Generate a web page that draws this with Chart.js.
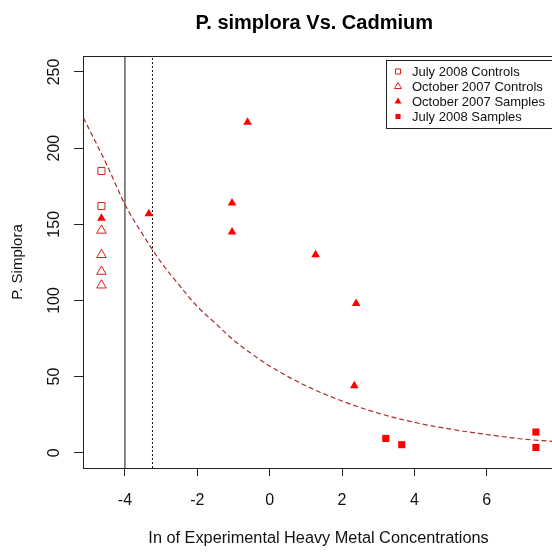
<!DOCTYPE html>
<html>
<head>
<meta charset="utf-8">
<script src="https://cdn.jsdelivr.net/npm/chart.js@4"></script>
<style>
  html, body { margin: 0; padding: 0; overflow: hidden; background: #fff; }
</style>
</head>
<body>
<canvas id="plot" width="552" height="553"></canvas>
<script>
// observations
let julyControlsX = [-4.65, -4.65];
let julyControlsY = [185, 162];
let octControlsX = [-4.65, -4.65, -4.65, -4.65];
let octControlsY = [146, 130, 119, 110];
let octSamplesX = [-4.65, -3.34, -0.61, -1.04, -1.04, 1.27, 2.39, 2.34];
let octSamplesY = [154, 157, 217, 164, 145, 130, 98, 44];
let julySamplesX = [3.21, 3.65, 7.36, 7.36];
let julySamplesY = [9.4, 5.3, 13.6, 3.5];

// fitted decay curve
let curveX = [-5.15, -4.5, -4, -3.5, -3, -2.5, -2, -1.5, -1, -0.5, 0, 1, 2, 3, 4, 5, 6, 7, 7.86];
let curveY = [220, 189, 163, 143, 125, 110, 96, 85, 74, 65, 57, 44, 34, 26, 20, 15.5, 12, 9, 7.4];

// vertical reference lines: solid, dotted
let refLineX = [-4, -3.24];

let xTicks = [-4, -2, 0, 2, 4, 6];
let yTicks = [0, 50, 100, 150, 200, 250];

const xMin = -5.16, xMax = 7.86, yMin = -10, yMax = 260.5;
const FONT = "'Liberation Sans', Arial, sans-serif";
const red = '#ff0000';

function pts(xs, ys) { return xs.map((x, i) => ({ x: x, y: ys[i] })); }

let datasets = [
  { label: 'July 2008 Controls', data: pts(julyControlsX, julyControlsY), pointStyle: 'rect',
    pointRadius: 5, borderColor: '#dc1c1c', backgroundColor: 'rgba(0,0,0,0)', pointBorderWidth: 1, showLine: false },
  { label: 'October 2007 Controls', data: pts(octControlsX, octControlsY), pointStyle: 'triangle',
    pointRadius: 5.5, borderColor: '#dc1c1c', backgroundColor: 'rgba(0,0,0,0)', pointBorderWidth: 1, showLine: false },
  { label: 'October 2007 Samples', data: pts(octSamplesX, octSamplesY), pointStyle: 'triangle',
    pointRadius: 5, borderColor: red, backgroundColor: red, pointBorderWidth: 0, showLine: false },
  { label: 'July 2008 Samples', data: pts(julySamplesX, julySamplesY), pointStyle: 'rect',
    pointRadius: 5, borderColor: red, backgroundColor: red, pointBorderWidth: 0, showLine: false },
  { label: 'fit', data: pts(curveX, curveY), showLine: true, pointRadius: 0, borderColor: '#b02a2a',
    borderWidth: 1.2, borderDash: [5, 3], cubicInterpolationMode: 'monotone', fill: false, inLegend: false },
  { label: 'ref1', data: [{ x: refLineX[0], y: yMin }, { x: refLineX[0], y: yMax }], showLine: true,
    pointRadius: 0, borderColor: '#111', borderWidth: 1, inLegend: false },
  { label: 'ref2', data: [{ x: refLineX[1], y: yMin }, { x: refLineX[1], y: yMax }], showLine: true,
    pointRadius: 0, borderColor: '#111', borderWidth: 1, borderDash: [2, 2], inLegend: false }
];

// the plot region runs a couple of pixels past the right edge of the canvas
const overhangPlugin = {
  id: 'overhang',
  afterLayout(chart) {
    const right = chart.width + 2;
    chart.chartArea.right = right;
    chart.chartArea.width = right - chart.chartArea.left;
    const xs = chart.scales.x;
    xs.right = right;
    xs.width = right - xs.left;
    xs.configure();
  }
};

// plot frame + boxed legend in the top right corner
const framePlugin = {
  id: 'frame',
  afterDraw(chart) {
    const ctx = chart.ctx, a = chart.chartArea;
    ctx.save();
    ctx.strokeStyle = '#222';
    ctx.lineWidth = 1;
    ctx.strokeRect(Math.round(a.left) + 0.5, Math.round(a.top) + 0.5, a.right - a.left, a.bottom - a.top);

    const lx = 386.5, ly = 60.5, rowH = 15;
    const items = chart.data.datasets.filter(d => d.inLegend !== false);
    ctx.fillStyle = '#fff';
    ctx.fillRect(lx, ly, 180, 68);
    ctx.strokeRect(lx, ly, 180, 68);
    ctx.font = '13px ' + FONT;
    ctx.textBaseline = 'middle';
    items.forEach((d, i) => {
      const cy = ly + 11 + i * rowH;
      ctx.fillStyle = d.backgroundColor;
      ctx.strokeStyle = d.borderColor;
      ctx.lineWidth = 1;
      Chart.helpers.drawPoint(ctx, {
        pointStyle: d.pointStyle, radius: d.pointStyle === 'rect' ? 3.6 : 4,
        borderWidth: d.pointBorderWidth, rotation: 0
      }, 398, cy);
      ctx.fillStyle = '#111';
      ctx.fillText(d.label, 412, cy + 1);
    });
    ctx.restore();
  }
};

function keepTicks(list) {
  return scale => { scale.ticks = list.map(v => ({ value: v })); };
}

new Chart(document.getElementById('plot'), {
  type: 'scatter',
  data: { datasets: datasets },
  plugins: [overhangPlugin, framePlugin],
  options: {
    responsive: false,
    animation: false,
    devicePixelRatio: 1,
    layout: { padding: 0 },
    plugins: {
      legend: { display: false },
      tooltip: { enabled: false },
      title: {
        display: true,
        text: 'P. simplora Vs. Cadmium',
        fullSize: false,
        color: '#000',
        font: { family: FONT, size: 20, weight: 'bold', lineHeight: 1.2 },
        padding: { top: 11, bottom: 21 }
      }
    },
    scales: {
      x: {
        type: 'linear',
        min: xMin, max: xMax,
        afterBuildTicks: keepTicks(xTicks),
        afterFit: s => { s.height = 85; },
        grid: { drawOnChartArea: false, drawTicks: true, tickLength: 8, color: '#222' },
        border: { display: false },
        ticks: { color: '#111', padding: 15, maxRotation: 0, autoSkip: false,
                 font: { family: FONT, size: 16 } },
        title: { display: true, text: 'In of Experimental Heavy Metal Concentrations', color: '#111',
                 font: { family: FONT, size: 16.3 }, padding: { top: 0, bottom: 5 } }
      },
      y: {
        type: 'linear',
        min: yMin, max: yMax,
        afterBuildTicks: keepTicks(yTicks),
        afterFit: s => { s.width = 83; },
        grid: { drawOnChartArea: false, drawTicks: true, tickLength: 9, color: '#222' },
        border: { display: false },
        ticks: { color: '#111', padding: 6, minRotation: 90, maxRotation: 90, crossAlign: 'center',
                 autoSkip: false, font: { family: FONT, size: 16 } },
        title: { display: true, text: 'P. Simplora', color: '#111',
                 font: { family: FONT, size: 15 }, padding: { top: 9, bottom: 0 } }
      }
    }
  }
});
</script>
</body>
</html>
